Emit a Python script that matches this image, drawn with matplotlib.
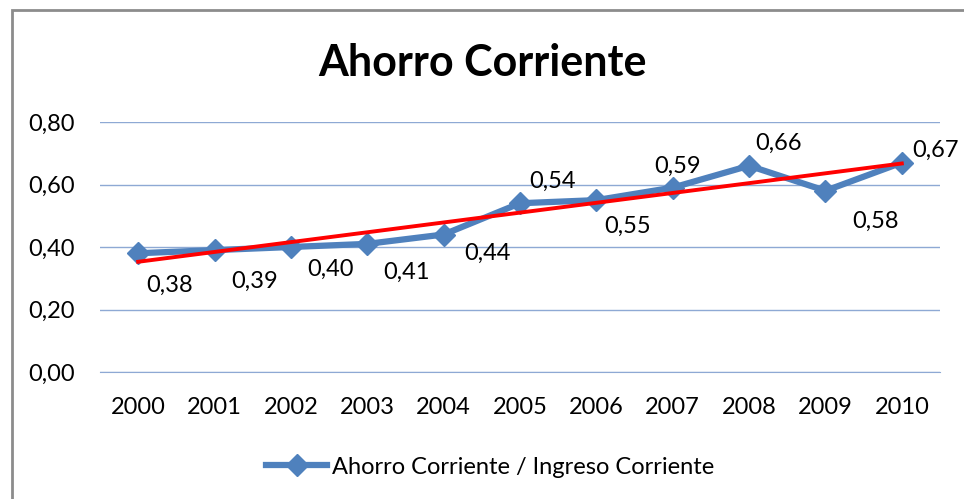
import numpy as np
import matplotlib.pyplot as plt
from matplotlib.patches import Rectangle

years = ["2000", "2001", "2002", "2003", "2004", "2005", "2006", "2007", "2008", "2009", "2010"]
ratio = [0.38, 0.39, 0.40, 0.41, 0.44, 0.54, 0.55, 0.59, 0.66, 0.58, 0.67]
# label offsets in pixels from each point
label_dx = [31, 40, 40, 39, 44, 33, 31, 5, 29, 50, 34]
label_dy = [-32, -31, -22, -28, -19, 22, -26, 21, 22, -31, 12]

plt.rcParams["font.family"] = ["Lato", "DejaVu Sans"]

blue = "#4F81BD"
grid = "#8EA9D4"

fig = plt.figure(figsize=(9.64, 4.99), dpi=100)
ax = fig.add_axes([100 / 964, 1 - 372 / 499, 840 / 964, 250 / 499])

x = np.arange(len(years))
ax.plot(x, ratio, color=blue, lw=4.5, marker="D", ms=11, mec=blue, mfc=blue,
        label="Ahorro Corriente / Ingreso Corriente", zorder=3)

slope, intercept = np.polyfit(x, ratio, 1)
ax.plot(x, slope * x + intercept, color="#FF0000", lw=2.8, zorder=4)

for xi, v, dx, dy in zip(x, ratio, label_dx, label_dy):
    ax.annotate(f"{v:.2f}".replace(".", ","), (xi, v), xytext=(dx, dy),
                textcoords="offset pixels", ha="center", va="center", fontsize=17)

ax.set_xlim(-0.5, len(years) - 0.5)
ax.set_ylim(0, 0.8)
ax.set_yticks([0, 0.2, 0.4, 0.6, 0.8])
ax.set_yticklabels([f"{t:.2f}".replace(".", ",") for t in [0, 0.2, 0.4, 0.6, 0.8]])
ax.set_xticks(x)
ax.set_xticklabels(years)
ax.tick_params(length=0, labelsize=17)
ax.tick_params(axis="y", pad=18)
ax.tick_params(axis="x", pad=18)
ax.grid(axis="y", color=grid, lw=1)
ax.set_axisbelow(True)
for s in ["top", "right", "left"]:
    ax.spines[s].set_visible(False)
ax.spines["bottom"].set_color(grid)

fig.text(0.5, 1 - 63 / 499, "Ahorro Corriente", ha="center", va="center",
         fontsize=31, fontweight="bold")

fig.legend(loc="center", bbox_to_anchor=(490 / 964, 1 - 467 / 499), frameon=False,
           fontsize=17, handlelength=2.6, handletextpad=0.2)

fig.patches.append(Rectangle((12 / 964, -0.05), 1.1, 1 - 10 / 499 + 0.05,
                             transform=fig.transFigure, fill=False,
                             ec="#8C8C8C", lw=2))

fig.savefig("out.png", dpi=100)
